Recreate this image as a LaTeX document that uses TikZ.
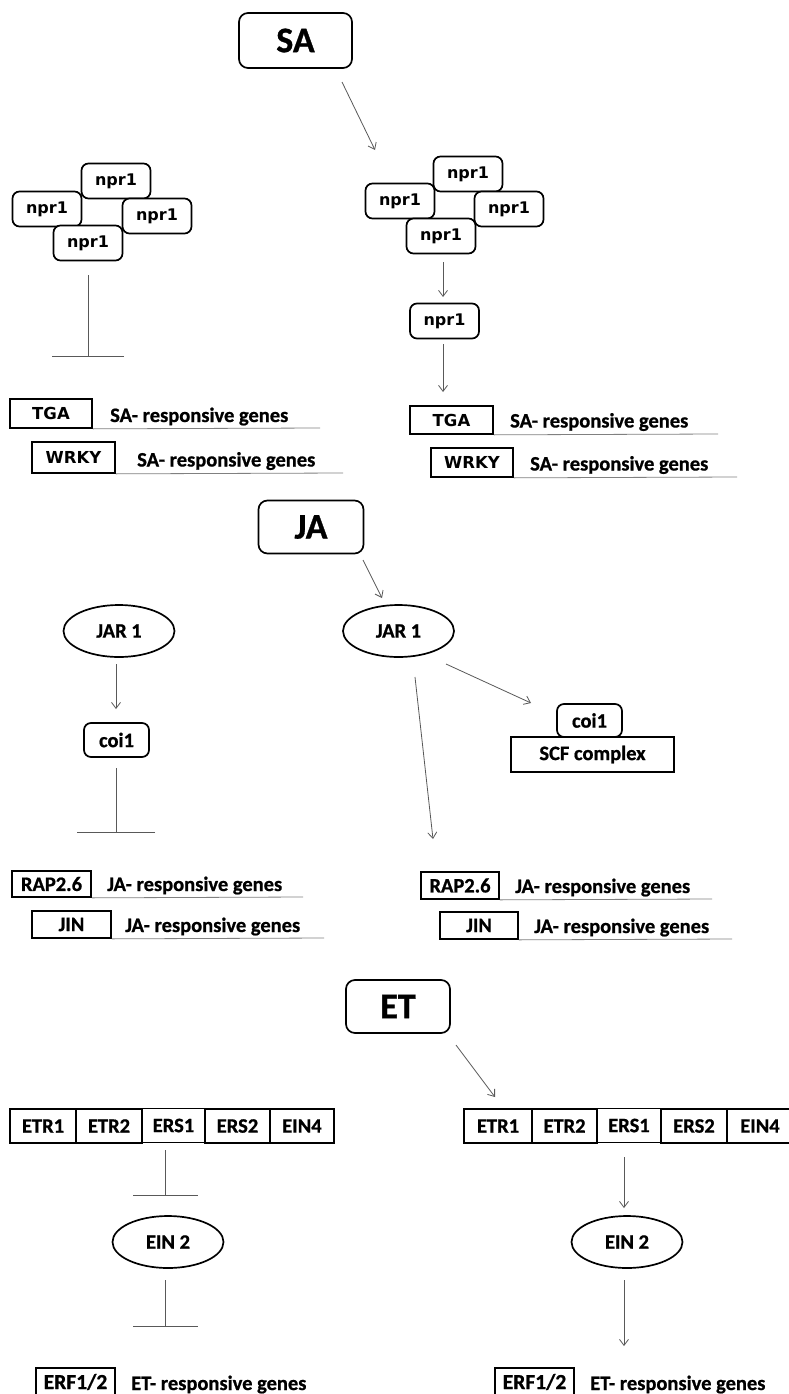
\documentclass[tikz,border=0pt]{standalone}
\usepackage{fontspec}
\setmainfont{Carlito}
\newfontfamily\calb{Carlito Bold}[FakeBold=0.8]
\newfontfamily\dvb{DejaVu Sans Bold}
\usetikzlibrary{arrows.meta,shapes.geometric}
\begin{document}
\begin{tikzpicture}[x=1pt,y=-1pt,
  rbox/.style={draw, line width=1.7pt, rounded corners=7pt, fill=white, inner sep=0pt},
  sbox/.style={draw, line width=1.7pt, fill=white, inner sep=0pt},
  big/.style={font=\calb\fontsize{36}{40}\selectfont},
  cal/.style={font=\calb\fontsize{20.5}{24}\selectfont},
  dv/.style={font=\dvb\fontsize{16}{19}\selectfont},
  hub/.style={rbox, big, minimum width=106pt, minimum height=53pt, rounded corners=9pt},
  npr/.style={rbox, dv, minimum width=69pt, minimum height=35pt},
  tf/.style={sbox, font=\dvb\fontsize{16.5}{19}\selectfont},
  lbl/.style={sbox, cal},
  oval/.style={ellipse, draw, line width=1.7pt, inner sep=0pt, minimum width=111pt, minimum height=52pt, cal},
  cell/.style={sbox, cal, minimum height=34pt},
  gtext/.style={cal, inner sep=0pt, anchor=base west},
  act/.style={draw=black!65, line width=0.8pt, -{Straight Barb[length=6pt,width=9pt]}},
  inh/.style={draw=black!65, line width=0.8pt},
  uline/.style={draw=black!50, line width=0.8pt},
]
\clip (0,0) rectangle (789,1394);
\fill[white] (0,0) rectangle (789,1394);

% ================= SA =================
\node[hub, minimum width=113pt, minimum height=55pt] (SA) at (295.5,40.5) {SA};
\coordinate (sa1) at (342,82);
\coordinate (sa2) at (375,150);
\draw[act] (sa1) -- (sa2);

% left npr1 cluster
\node[npr] (lt) at (116,181) {npr1};
\node[npr] (ll) at (47,209) {npr1};
\node[npr] (lr) at (157,216) {npr1};
\node[npr] (lb) at (88,243) {npr1};
% right npr1 cluster
\node[npr] (rt) at (468,174) {npr1};
\node[npr] (rl) at (400,201) {npr1};
\node[npr] (rr) at (509,209) {npr1};
\node[npr] (rb) at (441,236) {npr1};
\node[npr] (rs) at (444.5,321) {npr1};

\coordinate (li1) at (88,275);
\coordinate (li2) at (88,357);
\draw[inh, -{Bar[width=72pt]}] (li1) -- (li2);

\coordinate (ra1) at (443,262);
\coordinate (ra2) at (443,297);
\draw[act] (ra1) -- (ra2);
\coordinate (ra3) at (443,344);
\coordinate (ra4) at (443,392);
\draw[act] (ra3) -- (ra4);

% left genes
\node[tf, minimum width=82pt, minimum height=29pt] (tgaL) at (51,413.5) {TGA};
\node[gtext] (tgaLt) at (110,422) {SA- responsive genes};
\coordinate (tgaLu) at (320,428);
\draw[uline] (tgaL.south east) -- (tgaLu);
\node[tf, minimum width=83pt, minimum height=31pt] (wrkyL) at (73.5,457.5) {WRKY};
\node[gtext] (wrkyLt) at (137,466.5) {SA- responsive genes};
\coordinate (wrkyLu) at (343,473);
\draw[uline] (wrkyL.south east) -- (wrkyLu);
% right genes
\node[tf, minimum width=83pt, minimum height=28pt] (tgaR) at (451.5,420) {TGA};
\node[gtext] (tgaRt) at (510,427.5) {SA- responsive genes};
\coordinate (tgaRu) at (718,434);
\draw[uline] (tgaR.south east) -- (tgaRu);
\node[tf, minimum width=82pt, minimum height=29pt] (wrkyR) at (472,462.5) {WRKY};
\node[gtext] (wrkyRt) at (530,470.5) {SA- responsive genes};
\coordinate (wrkyRu) at (737,477);
\draw[uline] (wrkyR.south east) -- (wrkyRu);

% ================= JA =================
\node[hub, minimum width=105pt, minimum height=53pt] (JA) at (311,527) {JA};
\coordinate (ja1) at (363,560);
\coordinate (ja2) at (382,598);
\draw[act] (ja1) -- (ja2);

\node[oval] (jarL) at (119,631) {JAR 1};
\node[oval] (jarR) at (398.5,631) {JAR 1};

\coordinate (jl1) at (116,664);
\coordinate (jl2) at (116,709);
\draw[act] (jl1) -- (jl2);
\node[rbox, cal, minimum width=65pt, minimum height=34pt] (coiL) at (116.5,740) {coi1};
\coordinate (jl3) at (116,768);
\coordinate (jl4) at (116,833);
\draw[inh, -{Bar[width=78pt]}] (jl3) -- (jl4);

\coordinate (jr1) at (415,677);
\coordinate (jr2) at (433,839);
\draw[act] (jr1) -- (jr2);
\coordinate (jr3) at (446,664);
\coordinate (jr4) at (531,703);
\draw[act] (jr3) -- (jr4);
\node[sbox, cal, minimum width=163pt, minimum height=35pt] (scf) at (592.5,754.5) {SCF complex};
\node[rbox, cal, minimum width=65pt, minimum height=33pt] (coiR) at (589.5,720.5) {coi1};

% left JA genes
\node[lbl, minimum width=79pt, minimum height=26pt] (rapL) at (51.5,884) {RAP2.6};
\node[gtext] (rapLt) at (107,891) {JA- responsive genes};
\coordinate (rapLu) at (303,897);
\draw[uline] (rapL.south east) -- (rapLu);
\node[lbl, minimum width=79pt, minimum height=27pt] (jinL) at (71.5,924.5) {JIN};
\node[gtext] (jinLt) at (125,932) {JA- responsive genes};
\coordinate (jinLu) at (324,938);
\draw[uline] (jinL.south east) -- (jinLu);
% right JA genes
\node[lbl, minimum width=78pt, minimum height=27pt] (rapR) at (460,885.5) {RAP2.6};
\node[gtext] (rapRt) at (515,893) {JA- responsive genes};
\coordinate (rapRu) at (712,899);
\draw[uline] (rapR.south east) -- (rapRu);
\node[lbl, minimum width=78pt, minimum height=27pt] (jinR) at (479,925.5) {JIN};
\node[gtext] (jinRt) at (534,933) {JA- responsive genes};
\coordinate (jinRu) at (732,939);
\draw[uline] (jinR.south east) -- (jinRu);

% ================= ET =================
\node[hub, minimum width=104pt, minimum height=53pt] (ET) at (398,1006.5) {ET};
\coordinate (et1) at (456,1045);
\coordinate (et2) at (495,1097);
\draw[act] (et1) -- (et2);

% left receptor row
\node[cell, minimum width=66pt] (l1) at (43,1126) {ETR1};
\node[cell, minimum width=66pt] (l2) at (109,1126) {ETR2};
\node[cell, minimum width=65pt] (l4) at (237.5,1126) {ERS2};
\node[cell, minimum width=64pt] (l5) at (302,1126) {EIN4};
\node[cell, minimum width=63pt] (l3) at (173.5,1125.5) {ERS1};
% right receptor row
\node[cell, minimum width=68pt] (r1) at (498,1126) {ETR1};
\node[cell, minimum width=65pt] (r2) at (564.5,1126) {ETR2};
\node[cell, minimum width=66pt] (r4) at (694,1126) {ERS2};
\node[cell, minimum width=66pt] (r5) at (760,1126) {EIN4};
\node[cell, minimum width=64pt] (r3) at (629,1125.5) {ERS1};

\coordinate (el1) at (165,1150);
\coordinate (el2) at (165,1196);
\draw[inh, -{Bar[width=65pt]}] (el1) -- (el2);
\node[oval] (einL) at (168,1242) {EIN 2};
\coordinate (el3) at (165,1280);
\coordinate (el4) at (165,1327);
\draw[inh, -{Bar[width=65pt]}] (el3) -- (el4);

\coordinate (er1) at (624,1157);
\coordinate (er2) at (624,1208);
\draw[act] (er1) -- (er2);
\node[oval] (einR) at (627,1242) {EIN 2};
\coordinate (er3) at (624,1280);
\coordinate (er4) at (624,1346);
\draw[act] (er3) -- (er4);

\node[lbl, minimum width=79pt, minimum height=28pt, font=\calb\fontsize{21.5}{24}\selectfont] (erfL) at (75.5,1382) {ERF1/2};
\node[gtext] (erfLt) at (131,1390) {ET- responsive genes};
\node[lbl, minimum width=79pt, minimum height=28pt, font=\calb\fontsize{21.5}{24}\selectfont] (erfR) at (534.5,1382) {ERF1/2};
\node[gtext] (erfRt) at (590,1390) {ET- responsive genes};
\end{tikzpicture}
\end{document}
